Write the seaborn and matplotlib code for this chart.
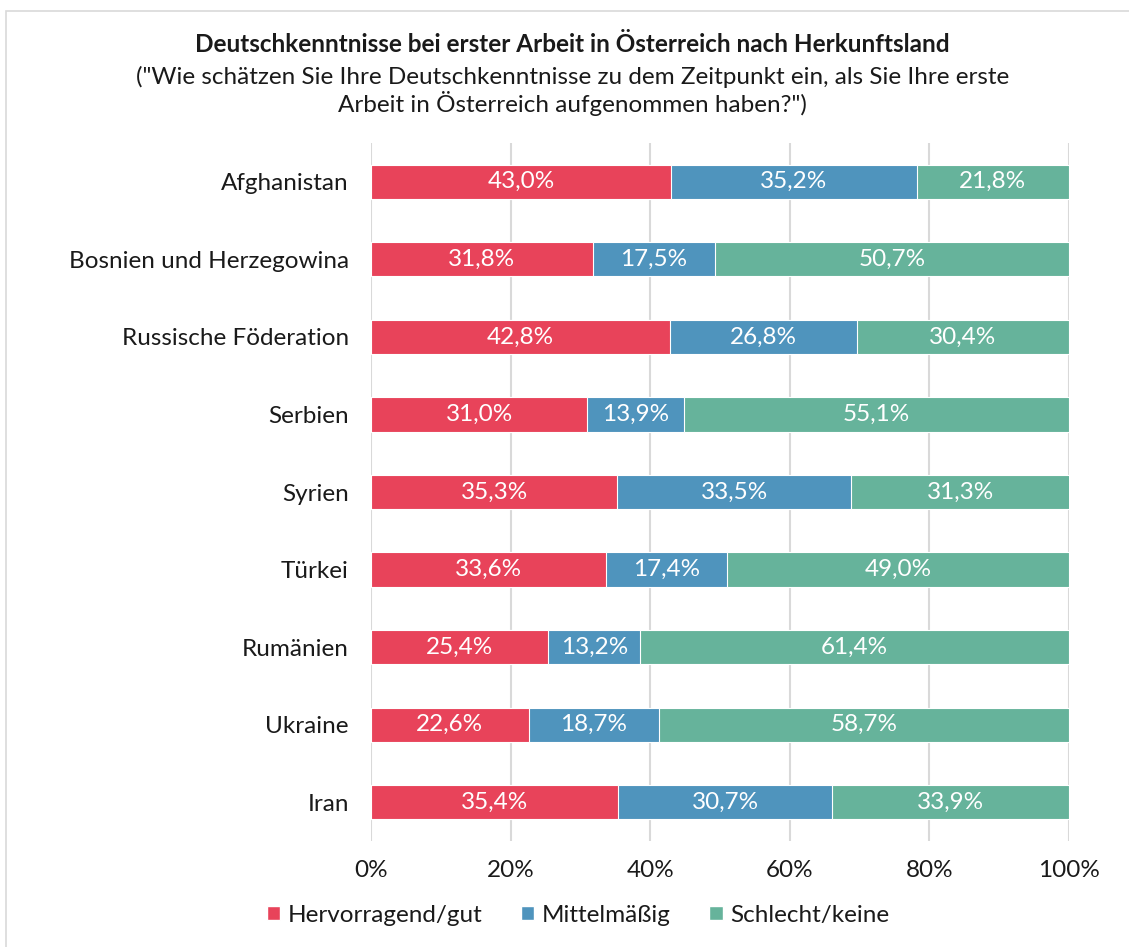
import numpy as np
import pandas as pd
import seaborn as sns
import matplotlib.pyplot as plt
from matplotlib.patches import Rectangle, Patch

# data
countries = ['Afghanistan', 'Bosnien und Herzegowina', 'Russische Föderation', 'Serbien',
             'Syrien', 'Türkei', 'Rumänien', 'Ukraine', 'Iran']
gut = [43.0, 31.8, 42.8, 31.0, 35.3, 33.6, 25.4, 22.6, 35.4]
mittel = [35.2, 17.5, 26.8, 13.9, 33.5, 17.4, 13.2, 18.7, 30.7]
schlecht = [21.8, 50.7, 30.4, 55.1, 31.3, 49.0, 61.4, 58.7, 33.9]
series = ['Hervorragend/gut', 'Mittelmäßig', 'Schlecht/keine']
colors = ['#E8435A', '#4F94BD', '#66B39B']

df = pd.DataFrame({'land': countries, 'gut': gut, 'mittel': mittel, 'schlecht': schlecht})
df['c1'] = df['gut']
df['c2'] = df['gut'] + df['mittel']
df['c3'] = df['c2'] + df['schlecht']

sns.set_theme(style='white')
plt.rcParams['font.family'] = ['Lato', 'DejaVu Sans']
plt.rcParams['text.color'] = '#1a1a1a'
FS = 17.5

fig = plt.figure(figsize=(11.29, 9.47), dpi=100)
ax = fig.add_axes([371 / 1129, 1 - 841 / 947, 698 / 1129, 698 / 947])

# stacked bars: draw cumulative totals from the back to the front
for col, color in zip(['c3', 'c2', 'c1'], colors[::-1]):
    sns.barplot(data=df, y='land', x=col, color=color, saturation=1, width=0.44, orient='h',
                edgecolor='white', linewidth=0.8, ax=ax, zorder=3)

for i in range(len(countries)):
    left = 0
    for val in [gut[i], mittel[i], schlecht[i]]:
        ax.text(left + val / 2, i, f'{val:.1f}%'.replace('.', ','), ha='center', va='center',
                color='white', fontsize=FS, zorder=5)
        left += val

ax.set_xlim(0, 100)
ax.set_ylim(len(countries) - 0.5, -0.5)
ax.set_xticks([0, 20, 40, 60, 80, 100])
ax.set_xticklabels([f'{t}%' for t in [0, 20, 40, 60, 80, 100]])
ax.grid(axis='x', color='#d9d9d9', linewidth=1.5, zorder=0)
ax.set_axisbelow(True)
for s in ax.spines.values():
    s.set_visible(False)
ax.tick_params(axis='both', length=0, labelsize=FS, colors='#1a1a1a')
ax.tick_params(axis='y', pad=16)
ax.tick_params(axis='x', pad=14)
ax.set_xlabel('')
ax.set_ylabel('')

fig.text(0.507, 1 - 45 / 947, 'Deutschkenntnisse bei erster Arbeit in Österreich nach Herkunftsland',
         ha='center', va='center', fontsize=FS, fontweight='bold')
fig.text(0.507, 1 - 91 / 947,
         '("Wie schätzen Sie Ihre Deutschkenntnisse zu dem Zeitpunkt ein, als Sie Ihre erste\n'
         'Arbeit in Österreich aufgenommen haben?")',
         ha='center', va='center', fontsize=FS, linespacing=1.15)

handles = [Patch(facecolor=c, label=l) for c, l in zip(colors, series)]
fig.legend(handles=handles, loc='center', bbox_to_anchor=(578 / 1129, 1 - 915 / 947), ncol=3,
           frameon=False, fontsize=FS, handlelength=0.55, handleheight=0.55,
           handletextpad=0.3, columnspacing=1.6)

# light frame around the chart
fig.patches.append(Rectangle((6 / 1129, -0.1), 1.2, 1 - 11 / 947 + 0.1, transform=fig.transFigure,
                             fill=False, edgecolor='#d9d9d9', linewidth=1.2))

fig.savefig('out.png', dpi=100)
